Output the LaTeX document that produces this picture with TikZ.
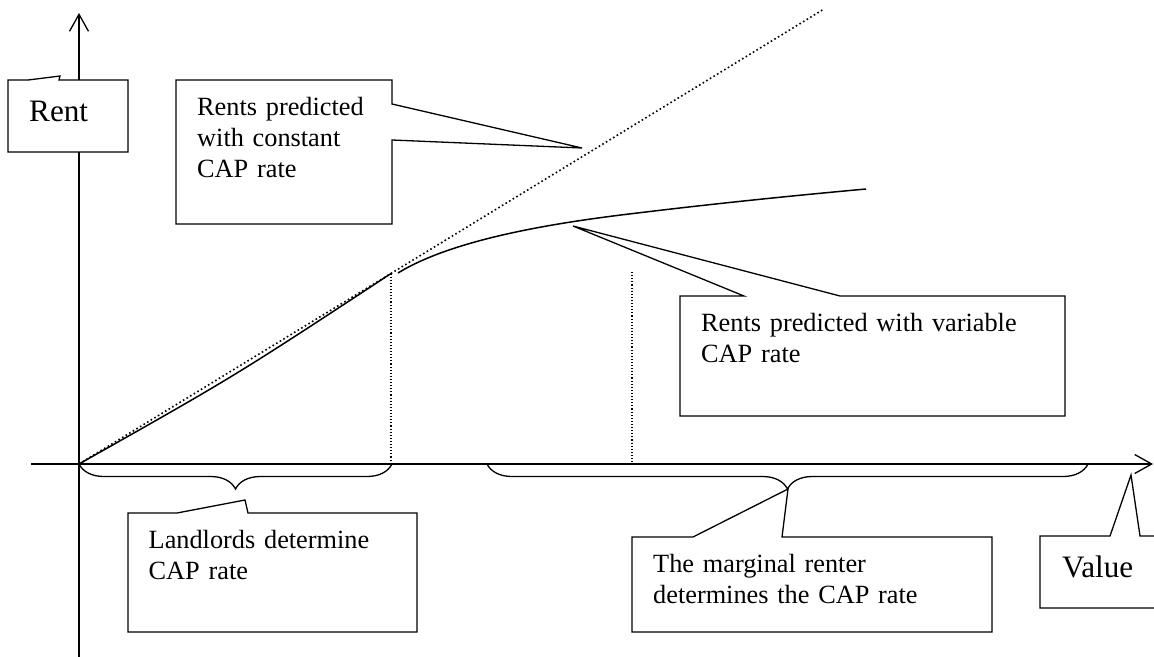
\documentclass[tikz,border=0pt]{standalone}
\usepackage{fontspec}
\setmainfont{Liberation Serif}
\usetikzlibrary{arrows.meta,decorations.pathreplacing}
\begin{document}
\begin{tikzpicture}[x=1pt,y=-1pt,
  axis/.style={line width=1.3pt,-{Straight Barb[length=17pt,width=19pt]}},
  box/.style={draw,fill=white,line width=1.3pt},
  note/.style={anchor=base west,inner sep=0pt,text width=330pt,align=left,font=\fontsize{26.3}{31}\selectfont},
  bignote/.style={anchor=base west,inner sep=0pt,font=\fontsize{31.2}{36}\selectfont},
  guide/.style={line width=1.1pt,dash pattern=on 1.1pt off 2pt},
  curly/.style={decorate,decoration={brace,mirror,amplitude=25pt},line width=1.3pt}]
\useasboundingbox (0,0) rectangle (1154,656);
\coordinate (o) at (79,464);
\coordinate (kink) at (391,273.5);
% axes
\draw[axis] (79,660) -- (79,13);
\draw[axis] (31,464) -- (1153,464);
% rents with constant CAP rate
\draw[line width=1.6pt,dash pattern=on 1.6pt off 2.6pt] (o) -- (824,9);
% rents with variable CAP rate
\draw[line width=1.5pt] (o) .. controls (235,376) .. (kink);
\draw[line width=1.5pt] (398,273) .. controls (455,238) and (560,222) .. (640,212.7)
  .. controls (720,203) and (800,195) .. (866,189);
\draw[guide] (kink) -- (391,464);
\draw[guide] (632,272) -- (632,462);
% braces under the value axis
\draw[curly] (o) -- (392,464);
\draw[curly] (487,464) -- (1088,464);
% callouts
\draw[box] (8,80) -- (28,80) -- (60,76) -- (59,80) -- (128,80) -- (128,152) -- (8,152) -- cycle;
\node[bignote] (rent) at (29,121.7) {Rent};
\draw[box] (176,80) -- (392,80) -- (392,104) -- (582,148) -- (392,140) -- (392,224) -- (176,224) -- cycle;
\node[note] (constcap) at (197,115) {Rents predicted\\with constant\\CAP rate};
\draw[box] (680,296) -- (744,296) -- (573,226) -- (840,296) -- (1065,296) -- (1065,416) -- (680,416) -- cycle;
\node[note] (varcap) at (701,331) {Rents predicted with variable\\CAP rate};
\draw[box] (128,513) -- (177,513) -- (245,500) -- (248,513) -- (417,513) -- (417,632) -- (128,632) -- cycle;
\node[note] (landlords) at (148.5,548.5) {Landlords determine\\CAP rate};
\draw[box] (632,537) -- (693,537) -- (788,489) -- (782,537) -- (992,537) -- (992,632) -- (632,632) -- cycle;
\node[note] (marginal) at (653,572) {The marginal renter\\determines the CAP rate};
\draw[box] (1040,536) -- (1110,536) -- (1131,475) -- (1140,536) -- (1170,536) -- (1170,608) -- (1040,608) -- cycle;
\node[bignote] (value) at (1062,577) {Value};
\end{tikzpicture}
\end{document}
